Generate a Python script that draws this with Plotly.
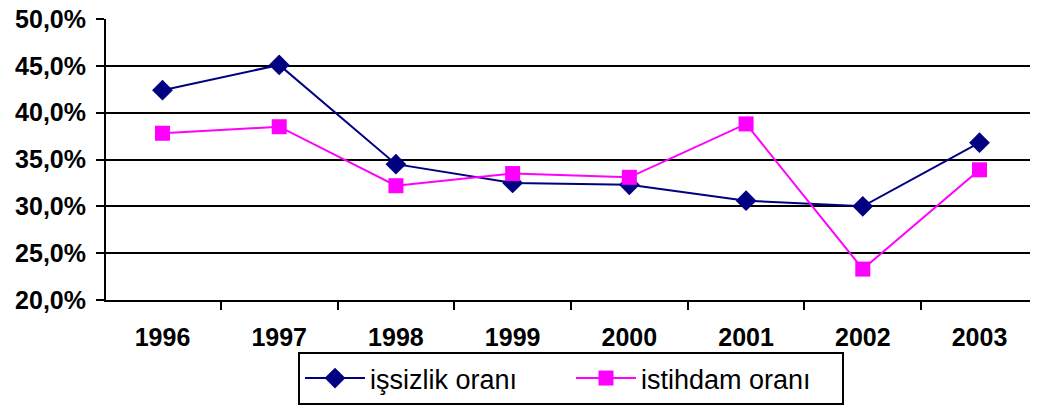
import plotly.graph_objects as go

years = ["1996", "1997", "1998", "1999", "2000", "2001", "2002", "2003"]
issizlik = [0.424, 0.451, 0.345, 0.325, 0.323, 0.306, 0.300, 0.368]
istihdam = [0.378, 0.385, 0.322, 0.335, 0.331, 0.388, 0.233, 0.339]

fig = go.Figure()
fig.add_trace(go.Scatter(
    x=years, y=issizlik, name="işsizlik oranı", mode="lines+markers",
    line=dict(color="#000080", width=2),
    marker=dict(symbol="diamond", size=16, color="#000080"),
))
fig.add_trace(go.Scatter(
    x=years, y=istihdam, name="istihdam oranı", mode="lines+markers",
    line=dict(color="#FF00FF", width=2),
    marker=dict(symbol="square", size=15, color="#FF00FF"),
))

# page body has an 8px margin, so the figure is a bit smaller than the window
fig.update_layout(
    width=1030, height=400,
    margin=dict(l=98, r=2, t=11, b=108, autoexpand=False),
    plot_bgcolor="white", paper_bgcolor="white",
    separators=",.",
    font=dict(family="Liberation Sans, Arial", color="black"),
    showlegend=True,
    legend=dict(
        orientation="h", x=0.5, xanchor="center", y=-0.185, yanchor="top",
        bordercolor="black", borderwidth=2, font=dict(size=27),
        itemwidth=60, tracegroupgap=0, entrywidth=196,
    ),
)
fig.update_xaxes(
    type="category", tickson="boundaries", ticks="outside", ticklen=8,
    tickwidth=2, tickcolor="black", showline=True, linecolor="black",
    linewidth=2, showgrid=False, ticklabelstandoff=14,
    tickfont=dict(size=25, weight="bold"),
)
fig.update_yaxes(
    range=[0.2, 0.5], dtick=0.05, tickformat=".1%", ticks="outside",
    ticklen=8, tickwidth=2, tickcolor="black", showline=True,
    linecolor="black", linewidth=2, showgrid=True, gridcolor="black",
    gridwidth=2, zeroline=False, ticklabelstandoff=5,
    ticklabeloverflow="allow",
    tickfont=dict(size=25, weight="bold"),
)

fig.write_html("out.html")
